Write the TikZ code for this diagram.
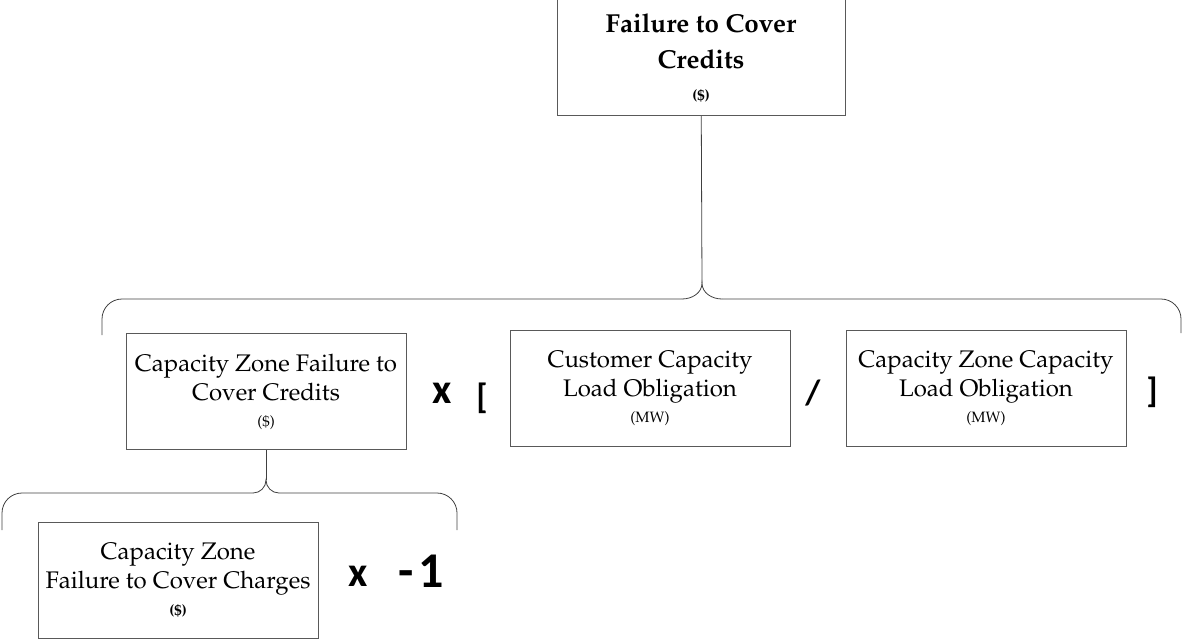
\documentclass[tikz,border=0pt]{standalone}
\usepackage[T1]{fontenc}
\usepackage{fontspec}
\newfontfamily\opfont{Carlito}
\newcommand\pal{\fontencoding{T1}\fontfamily{ppl}\selectfont}
\newcommand\unitsize{\fontsize{15}{18}\selectfont}

\begin{document}
\begin{tikzpicture}[x=10pt,y=10pt,
    link/.style={draw=black!75, line width=0.8pt},
    arm/.style={link, rounded corners=20pt}]

      \useasboundingbox (0,0) rectangle (118.3,-63.8);

      \begin{scope}[every node/.style={draw=black!65, line width=1pt, inner sep=0pt,
          minimum width=280pt, minimum height=116pt, align=center,
          font=\pal\fontsize{24}{29}\selectfont}]
        \node (1) [minimum width=288pt, font=\pal\bfseries\fontsize{26}{36}\selectfont]
          at (70.1,-5.75) {Failure to Cover\\Credits\\[-4pt]{\unitsize(\$)}};
        \node (2) at (26.6,-39.15) {Capacity Zone Failure to\\Cover Credits\\[-3pt]{\unitsize(\$)}};
        \node (3) at (65.0,-38.8) {Customer Capacity\\Load Obligation\\[-3pt]{\unitsize(MW)}};
        \node (4) at (98.6,-38.8) {Capacity Zone Capacity\\Load Obligation\\[-3pt]{\unitsize(MW)}};
        \node (5) at (17.8,-58.05) {Capacity Zone\\Failure to Cover Charges\\[-2pt]{\unitsize\bfseries(\$)}};
      \end{scope}

      \begin{scope}[every node/.style={inner sep=0pt, font=\opfont\bfseries\fontsize{35}{40}\selectfont}]
        \node (x1) [font=\opfont\bfseries\fontsize{42}{44}\selectfont] at (44.2,-39.3) {x};
        \node (lb) at (48.2,-39.8) {[};
        \node (sl) at (81.3,-39.3) {/};
        \node (rb) at (115.2,-39.2) {]};
        \node (x2) [font=\opfont\bfseries\fontsize{42}{44}\selectfont] at (35.8,-57.6) {x};
        \node (m1) [font=\opfont\bfseries\fontsize{50}{54}\selectfont] at (42.1,-57.1) {-\hspace{5pt}1};
      \end{scope}

      \coordinate (c1) at (70.2,-28.3);
      \coordinate (l1) at (68.2,-29.9);
      \coordinate (r1) at (72.2,-29.9);
      \coordinate (c2) at (26.6,-48.0);
      \coordinate (l2) at (25.3,-49.3);
      \coordinate (r2) at (27.9,-49.3);

      \draw[link] (1) -- (c1);
      \draw[link] (l1) to[out=0,in=-90] (c1) to[out=-90,in=180] (r1);
      \draw[arm] (10.2,-33.5) |- (l1);
      \draw[arm] (r1) -| (118.1,-33.3);

      \draw[link] (2) -- (c2);
      \draw[link] (l2) to[out=0,in=-90] (c2) to[out=-90,in=180] (r2);
      \draw[arm] (0.2,-53.0) |- (l2);
      \draw[arm] (r2) -| (45.7,-53.0);

    \end{tikzpicture}
\end{document}
